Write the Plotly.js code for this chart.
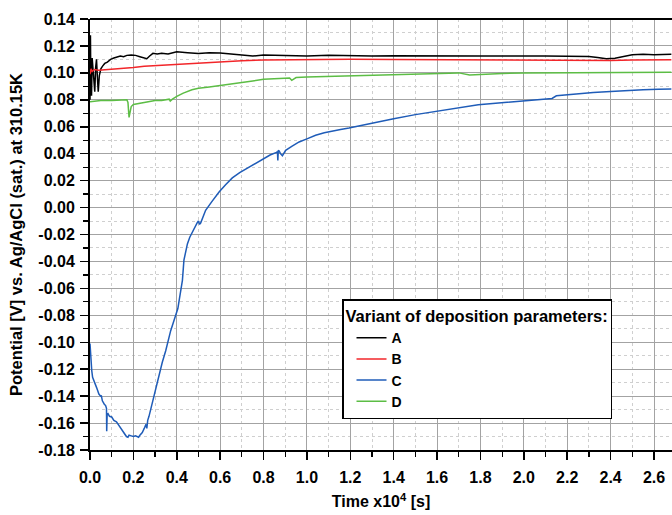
<!DOCTYPE html>
<html>
<head>
<meta charset="utf-8">
<script src="https://cdn.plot.ly/plotly-3.0.1.min.js"></script>
<style>html,body{margin:0;padding:0;background:#fff;}#chart{width:672px;height:515px;}</style>
</head>
<body>
<div id="chart"></div>
<script>
// ---- data (time in 10^4 s, potential in V) ----
const tA = [0, 0.002, 0.004, 0.007, 0.01, 0.014, 0.018, 0.022, 0.026, 0.03, 0.034, 0.038, 0.043, 0.05, 0.058, 0.068, 0.08, 0.095, 0.11, 0.125, 0.14, 0.155, 0.17, 0.19, 0.21, 0.23, 0.25, 0.262, 0.275, 0.29, 0.31, 0.33, 0.36, 0.4, 0.45, 0.5, 0.55, 0.6, 0.65, 0.7, 0.75, 0.8, 0.9, 1.0, 1.1, 1.2, 1.3, 1.4, 1.5, 1.6, 1.7, 1.8, 1.9, 2.0, 2.1, 2.2, 2.3, 2.34, 2.38, 2.42, 2.46, 2.5, 2.55, 2.6, 2.68];
const vA = [0.080, 0.128, 0.090, 0.083, 0.111, 0.104, 0.094, 0.086, 0.104, 0.110, 0.097, 0.086, 0.098, 0.103, 0.105, 0.107, 0.108, 0.110, 0.111, 0.112, 0.1125, 0.112, 0.113, 0.1133, 0.113, 0.112, 0.111, 0.1105, 0.1125, 0.1145, 0.114, 0.1145, 0.114, 0.1157, 0.115, 0.1143, 0.115, 0.1148, 0.114, 0.113, 0.1125, 0.1133, 0.1128, 0.1126, 0.113, 0.1127, 0.1125, 0.1128, 0.1126, 0.1128, 0.1127, 0.1125, 0.1126, 0.1128, 0.1125, 0.1124, 0.1122, 0.1115, 0.1105, 0.1108, 0.1122, 0.1135, 0.1138, 0.1135, 0.1138];

const tB = [0, 0.005, 0.01, 0.02, 0.04, 0.07, 0.1, 0.15, 0.2, 0.25, 0.3, 0.35, 0.4, 0.5, 0.6, 0.7, 0.8, 0.9, 1.0, 1.2, 1.4, 1.6, 1.8, 2.0, 2.2, 2.3, 2.4, 2.5, 2.6, 2.68];
const vB = [0.099, 0.103, 0.101, 0.1025, 0.102, 0.1023, 0.1025, 0.1035, 0.104, 0.105, 0.1055, 0.106, 0.1063, 0.107, 0.108, 0.109, 0.1095, 0.1098, 0.1100, 0.1102, 0.1100, 0.1098, 0.1096, 0.1095, 0.1095, 0.1093, 0.1092, 0.1095, 0.1098, 0.1097];

const tC = [0, 0.002, 0.004, 0.008, 0.012, 0.02, 0.03, 0.041, 0.049, 0.052, 0.057, 0.066, 0.072, 0.076, 0.077, 0.079, 0.083, 0.09, 0.1, 0.11, 0.122, 0.134, 0.145, 0.157, 0.168, 0.175, 0.18, 0.19, 0.2, 0.21, 0.218, 0.224, 0.23, 0.241, 0.25, 0.258, 0.262, 0.266, 0.272, 0.283, 0.295, 0.307, 0.318, 0.333, 0.349, 0.36, 0.372, 0.385, 0.395, 0.405, 0.412, 0.42, 0.426, 0.433, 0.441, 0.449, 0.46, 0.472, 0.485, 0.495, 0.5, 0.505, 0.51, 0.52, 0.533, 0.56, 0.595, 0.625, 0.656, 0.69, 0.733, 0.765, 0.794, 0.83, 0.86, 0.864, 0.866, 0.868, 0.872, 0.878, 0.887, 0.895, 0.902, 0.93, 0.964, 1.0, 1.04, 1.08, 1.117, 1.155, 1.194, 1.25, 1.3, 1.4, 1.5, 1.6, 1.7, 1.79, 1.87, 1.94, 2.02, 2.09, 2.13, 2.15, 2.2, 2.32, 2.4, 2.47, 2.55, 2.62, 2.68];
const vC = [-0.101, -0.108, -0.114, -0.121, -0.126, -0.130, -0.1335, -0.1385, -0.140, -0.1395, -0.1435, -0.146, -0.147, -0.149, -0.166, -0.1535, -0.153, -0.155, -0.1555, -0.158, -0.159, -0.162, -0.164, -0.167, -0.170, -0.1705, -0.169, -0.1695, -0.170, -0.1695, -0.170, -0.1705, -0.169, -0.167, -0.164, -0.161, -0.164, -0.158, -0.155, -0.148, -0.140, -0.132, -0.1236, -0.115, -0.1063, -0.0985, -0.0914, -0.085, -0.080, -0.075, -0.068, -0.060, -0.054, -0.039, -0.032, -0.027, -0.022, -0.018, -0.014, -0.011, -0.010, -0.0125, -0.0115, -0.007, -0.002, 0.004, 0.0115, 0.017, 0.022, 0.026, 0.030, 0.033, 0.0363, 0.039, 0.041, 0.0415, 0.035, 0.0425, 0.042, 0.040, 0.0385, 0.041, 0.0425, 0.0455, 0.0487, 0.051, 0.0537, 0.0555, 0.0569, 0.058, 0.059, 0.061, 0.0625, 0.066, 0.069, 0.0716, 0.074, 0.0763, 0.0775, 0.0785, 0.0795, 0.0808, 0.081, 0.083, 0.0838, 0.0855, 0.0862, 0.087, 0.0875, 0.0878, 0.088];

const tD = [0, 0.02, 0.05, 0.1, 0.15, 0.17, 0.175, 0.18, 0.185, 0.19, 0.2, 0.22, 0.25, 0.3, 0.33, 0.35, 0.365, 0.37, 0.38, 0.4, 0.43, 0.47, 0.5, 0.55, 0.6, 0.65, 0.7, 0.75, 0.8, 0.85, 0.9, 0.92, 0.93, 0.95, 1.0, 1.1, 1.2, 1.3, 1.4, 1.5, 1.6, 1.7, 1.75, 1.8, 1.9, 2.0, 2.2, 2.4, 2.6, 2.68];
const vD = [0.0785, 0.079, 0.0795, 0.0795, 0.0795, 0.080, 0.078, 0.067, 0.071, 0.075, 0.0765, 0.077, 0.078, 0.0795, 0.0795, 0.080, 0.0805, 0.079, 0.0805, 0.0825, 0.085, 0.0875, 0.0885, 0.0895, 0.0905, 0.0915, 0.0925, 0.094, 0.0952, 0.0955, 0.096, 0.0962, 0.0945, 0.0965, 0.097, 0.0975, 0.098, 0.0985, 0.099, 0.0995, 0.1000, 0.1000, 0.0985, 0.099, 0.0995, 0.1000, 0.1002, 0.1004, 0.1005, 0.1005];

const seriesNames = ['A', 'B', 'C', 'D'];
const seriesColors = ['#000000', '#f2262a', '#1f5cb8', '#5cbd45'];

const xTickVals = [0, 0.2, 0.4, 0.6, 0.8, 1.0, 1.2, 1.4, 1.6, 1.8, 2.0, 2.2, 2.4, 2.6];
const xTickText = ['0.0', '0.2', '0.4', '0.6', '0.8', '1.0', '1.2', '1.4', '1.6', '1.8', '2.0', '2.2', '2.4', '2.6'];
const yTickVals = [-0.18, -0.16, -0.14, -0.12, -0.10, -0.08, -0.06, -0.04, -0.02, 0.00, 0.02, 0.04, 0.06, 0.08, 0.10, 0.12, 0.14];
const yTickText = ['-0.18', '-0.16', '-0.14', '-0.12', '-0.10', '-0.08', '-0.06', '-0.04', '-0.02', '0.00', '0.02', '0.04', '0.06', '0.08', '0.10', '0.12', '0.14'];

// ---- traces ----
const xs = [tA, tB, tC, tD];
const ys = [vA, vB, vC, vD];
const traces = seriesNames.map((n, i) => ({
  x: xs[i], y: ys[i], name: n, type: 'scatter', mode: 'lines',
  line: {color: seriesColors[i], width: 1.5}
}));

const FONT = 'Liberation Sans, Arial, sans-serif';
const tickFont = {family: FONT, size: 16, weight: 'bold', color: '#000'};
const minorGrid = {ticks: 'outside', ticklen: 5, tickwidth: 1.2, tickcolor: '#000',
                   showgrid: true, gridcolor: '#cfcfcf', griddash: '3px,3px', gridwidth: 1};
const layout = {
  width: 672, height: 515,
  margin: {l: 90, r: 0, t: 19, b: 65},
  paper_bgcolor: '#ffffff', plot_bgcolor: '#ffffff',
  font: {family: FONT, color: '#000', size: 15, weight: 'bold'},
  showlegend: true,
  xaxis: {
    range: [0, 2.683], tickmode: 'array', tickvals: xTickVals, ticktext: xTickText,
    showline: true, linecolor: '#000', linewidth: 2, zeroline: false,
    ticks: 'outside', ticklen: 8, tickwidth: 1.5, tickcolor: '#000',
    ticklabelstandoff: 4,
    showgrid: true, gridcolor: '#a3a3a3', gridwidth: 1,
    tickfont: tickFont,
    minor: Object.assign({tickmode: 'linear', tick0: 0, dtick: 0.1}, minorGrid),
    title: {text: 'Time x10<sup>4</sup> [s]', font: {family: FONT, size: 16, weight: 'bold', color: '#000'}, standoff: 11}
  },
  yaxis: {
    range: [-0.18, 0.14], tickmode: 'array', tickvals: yTickVals, ticktext: yTickText,
    showline: true, linecolor: '#000', linewidth: 2, zeroline: false,
    ticks: 'outside', ticklen: 8, tickwidth: 1.5, tickcolor: '#000',
    ticklabelstandoff: 2,
    showgrid: true, gridcolor: '#a3a3a3', gridwidth: 1,
    tickfont: tickFont,
    minor: Object.assign({tickmode: 'linear', tick0: 0, dtick: 0.01}, minorGrid),
    title: {text: 'Potential [V] vs. Ag/AgCl (sat.) at 310.15K', font: {family: FONT, size: 16.5, weight: 'bold', color: '#000'}, standoff: 12}
  },
  legend: {
    x: 0.433, y: 0.350, xanchor: 'left', yanchor: 'top',
    bgcolor: '#ffffff', bordercolor: '#000', borderwidth: 1.5,
    font: {family: FONT, size: 14, weight: 'bold', color: '#000'},
    title: {text: 'Variant of deposition parameters:', side: 'top', font: {family: FONT, size: 16.5, weight: 'bold', color: '#000'}},
    indentation: 8,
    tracegroupgap: 0
  },
  shapes: [{type: 'line', xref: 'paper', yref: 'paper', x0: 0, x1: 1, y0: 1, y1: 1, line: {color: '#000', width: 2}}]
};

Plotly.newPlot('chart', traces, layout, {displayModeBar: false, staticPlot: true});
</script>
</body>
</html>
